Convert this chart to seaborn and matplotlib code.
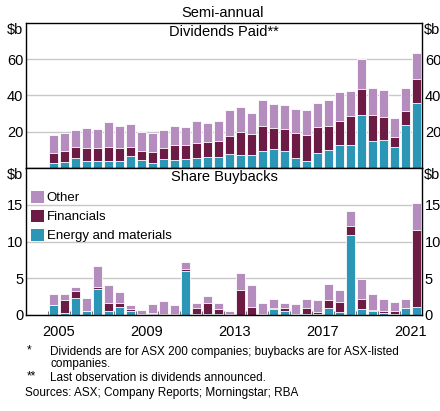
import matplotlib
matplotlib.use('Agg')
import matplotlib.pyplot as plt
from matplotlib.patches import Patch
import numpy as np
import seaborn as sns

# semi-annual periods, 2005 H1 .. 2021 H2
periods = [f"{y}-H{h}" for y in range(2005, 2022) for h in (1, 2)]
year_labels = ['2005', '2009', '2013', '2017', '2021']

# Dividends paid, $b
div_energy = [2.9, 3.1, 5.5, 4.0, 4.0, 4.0, 4.0, 6.8, 4.4, 2.9, 5.0, 4.5,
              5.0, 5.5, 6.2, 6.0, 7.5, 7.3, 7.2, 9.5, 10.5, 9.5, 5.3, 4.0,
              8.4, 9.9, 12.8, 12.8, 29.4, 15.0, 15.2, 11.7, 23.9, 36.0]
div_fin = [5.5, 6.4, 6.2, 7.2, 6.8, 7.7, 6.8, 4.9, 5.1, 5.7, 6.0, 8.3,
           7.5, 8.1, 7.9, 8.7, 9.9, 12.5, 11.7, 13.8, 11.7, 12.2, 13.8, 14.4,
           14.0, 13.2, 13.4, 16.0, 14.3, 14.5, 13.2, 5.4, 7.3, 13.2]
div_other = [9.6, 9.6, 9.2, 10.8, 10.7, 13.6, 12.5, 12.3, 10.5, 10.5, 10.1, 10.5,
             10.3, 12.3, 10.5, 11.5, 14.5, 13.6, 11.7, 14.0, 13.0, 13.3, 13.6, 13.7,
             13.7, 14.5, 15.5, 13.6, 16.3, 14.5, 14.7, 10.6, 12.7, 14.1]

# Share buybacks, $b
buy_energy = [1.3, 0.3, 2.3, 0.5, 3.6, 0.5, 1.1, 0.6, 0.05, 0.1, 0.05, 0.0,
              6.0, 0.2, 0.1, 0.1, 0.05, 0.0, 0.05, 0.05, 0.8, 0.5, 0.1, 0.2,
              0.2, 1.0, 0.4, 10.9, 0.8, 0.5, 0.3, 0.2, 1.0, 1.1]
buy_fin = [0.1, 1.7, 1.0, 0.1, 0.2, 1.2, 0.5, 0.2, 0.05, 0.2, 0.15, 0.1,
           0.2, 0.7, 1.6, 0.7, 0.05, 3.4, 1.05, 0.15, 0.1, 0.4, 0.1, 0.8,
           0.2, 1.1, 1.4, 1.2, 1.4, 0.2, 0.2, 0.3, 0.0, 10.5]
buy_other = [1.5, 0.9, 0.5, 1.7, 2.9, 2.4, 1.5, 0.5, 0.6, 1.2, 1.7, 1.3,
             1.0, 0.7, 0.9, 0.8, 0.4, 2.3, 3.0, 1.4, 1.3, 0.8, 1.3, 1.2,
             1.6, 2.1, 1.6, 2.0, 2.7, 2.2, 1.7, 1.3, 1.2, 3.7]

c_other = '#b48cbd'
c_fin = '#6b1b44'
c_energy = '#2b96b5'

plt.rcParams['font.family'] = ['Liberation Sans', 'DejaVu Sans']

fig = plt.figure(figsize=(4.4, 4.11), dpi=100)
ax1 = fig.add_axes([26 / 440, 1 - 168 / 411, 396 / 440, 145 / 411])
ax2 = fig.add_axes([26 / 440, 1 - 315 / 411, 396 / 440, 147 / 411])


def stacked(ax, energy, fin, other):
    energy = np.array(energy)
    fin = np.array(fin)
    other = np.array(other)
    layers = [(energy + fin + other, c_other), (energy + fin, c_fin), (energy, c_energy)]
    for vals, col in layers:
        sns.barplot(x=periods, y=vals, ax=ax, color=col, saturation=1, width=0.8,
                    edgecolor='white', linewidth=0.6, errorbar=None)


stacked(ax1, div_energy, div_fin, div_other)
stacked(ax2, buy_energy, buy_fin, buy_other)

panels = [(ax1, 80, [20, 40, 60], 'Dividends Paid**', 145),
          (ax2, 20, [0, 5, 10, 15], 'Share Buybacks', 147)]
for ax, top, ticks, lab, hpx in panels:
    ax.set_xlim(-2.5, 33.5)
    ax.set_ylim(0, top)
    ax.set_yticks(ticks)
    ax.yaxis.grid(True, color='#c8c8c8', lw=1)
    ax.set_axisbelow(True)
    ax.tick_params(axis='y', length=0, pad=2, labelsize=10.5, labelleft=True, labelright=True)
    ax.set_xlabel('')
    ax.set_ylabel('')
    for s in ax.spines.values():
        s.set_color('black')
        s.set_linewidth(1.0)
    ax.text(0.5, 1 - 9 / hpx, lab, transform=ax.transAxes, ha='center', va='center', fontsize=10.5)
    ax.text(-3 / 396, 1 - 7 / hpx, '$b', transform=ax.transAxes, ha='right', va='center', fontsize=10.5)
    ax.text(1 + 2 / 396, 1 - 7 / hpx, '$b', transform=ax.transAxes, ha='left', va='center', fontsize=10.5)

ax1.set_xticks([])
ax1.tick_params(axis='x', length=0, labelbottom=False)
ax2.set_xticks(np.arange(-0.5, 34, 2), minor=True)
ax2.set_xticks([0.5, 8.5, 16.5, 24.5, 32.5])
ax2.set_xticklabels(year_labels)
ax2.tick_params(axis='x', which='major', length=0, pad=7, labelsize=10.5)
ax2.tick_params(axis='x', which='minor', length=3, direction='in', color='#555555')

handles = [Patch(facecolor=c_other, label='Other'),
           Patch(facecolor=c_fin, label='Financials'),
           Patch(facecolor=c_energy, label='Energy and materials')]
ax2.legend(handles=handles, loc='upper left', bbox_to_anchor=(5 / 396, 1 - 23 / 147),
           frameon=False, fontsize=9.5, handlelength=1.0, handleheight=1.0,
           handletextpad=0.2, labelspacing=0.42, borderpad=0, borderaxespad=0)

fig.text(223 / 440, 1 - 13 / 411, 'Semi-annual', ha='center', va='center', fontsize=10.5)

fs = 8.5
fig.text(27 / 440, 1 - 350 / 411, '*', ha='left', va='center', fontsize=fs)
fig.text(50 / 440, 1 - 352 / 411, 'Dividends are for ASX 200 companies; buybacks are for ASX-listed',
         ha='left', va='center', fontsize=fs)
fig.text(50 / 440, 1 - 364 / 411, 'companies.', ha='left', va='center', fontsize=fs)
fig.text(27 / 440, 1 - 376 / 411, '**', ha='left', va='center', fontsize=fs)
fig.text(50 / 440, 1 - 378 / 411, 'Last observation is dividends announced.', ha='left', va='center', fontsize=fs)
fig.text(25 / 440, 1 - 393 / 411, 'Sources: ASX; Company Reports; Morningstar; RBA', ha='left', va='center', fontsize=fs)

fig.savefig('out.png', dpi=100)
